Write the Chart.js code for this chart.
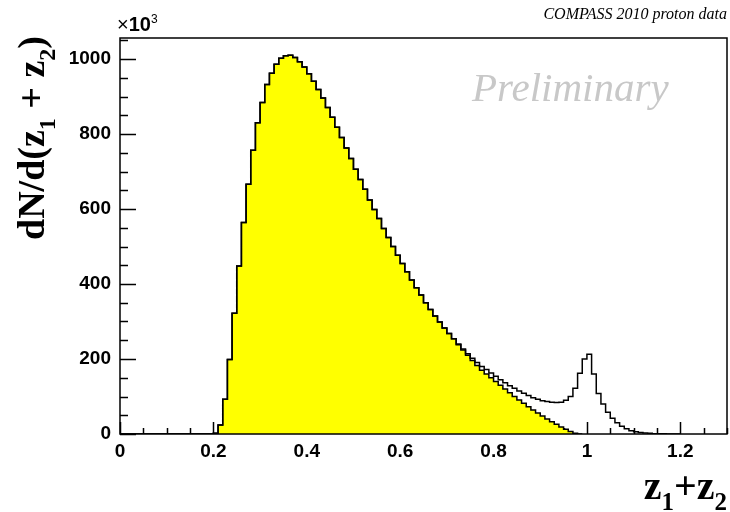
<!DOCTYPE html>
<html>
<head>
<meta charset="utf-8">
<script src="https://cdn.jsdelivr.net/npm/chart.js@4.4.1/dist/chart.umd.min.js"></script>
<style>
  html, body { margin: 0; padding: 0; background: #fff; }
  #wrap { width: 730px; height: 512px; }
</style>
</head>
<body>
<div id="wrap"><canvas id="chart" width="730" height="512"></canvas></div>
<script>
// histogram bins (width 0.01), first bin starts at 0.20
const binStart = 0.20;
const binWidth = 0.01;

// all events, x10^3 per bin
const totalCounts = [
    2, 24, 93, 199, 322, 448, 564, 666, 757, 830,          // 0.20 - 0.29
    884, 932, 962, 986, 1002, 1009, 1010, 1004, 993, 979,  // 0.30 - 0.39
    961, 941, 919, 896, 871, 845, 818, 791, 763, 735,      // 0.40 - 0.49
    706, 679, 653, 624, 599, 575, 548, 524, 500, 477,      // 0.50 - 0.59
    455, 433, 411, 390, 371, 350, 332, 315, 299, 283,      // 0.60 - 0.69
    268, 254, 240, 227, 214, 202, 191, 180, 172, 163,      // 0.70 - 0.79
    154, 145, 137, 129, 122, 115, 109, 103, 97, 93,        // 0.80 - 0.89
    89, 87, 85, 84, 85, 90, 100, 122, 162, 200,            // 0.90 - 0.99
    213, 160, 108, 80, 58, 42, 30, 21, 14, 9,              // 1.00 - 1.09
    6, 4, 3, 2, 1, 1, 0.5, 0.3, 0.2, 0                     // 1.10 - 1.19
];

// yellow (filled) sample, x10^3 per bin
const yellowCounts = [
    2, 24, 93, 199, 322, 448, 564, 666, 757, 830,          // 0.20 - 0.29
    884, 932, 962, 986, 1002, 1009, 1010, 1004, 993, 979,  // 0.30 - 0.39
    961, 941, 919, 896, 871, 845, 818, 791, 763, 735,      // 0.40 - 0.49
    706, 679, 653, 624, 599, 575, 548, 524, 500, 477,      // 0.50 - 0.59
    455, 433, 411, 390, 371, 350, 332, 315, 299, 283,      // 0.60 - 0.69
    268, 254, 238, 224, 210, 196, 183, 170, 160, 150,      // 0.70 - 0.79
    140, 130, 120, 110, 100, 91, 82, 73, 64, 56,           // 0.80 - 0.89
    48, 40, 33, 26, 19, 13, 7, 2, 0                        // 0.90 - 0.98
];

// axis
const xMin = 0, xMax = 1.3, xStep = 0.2, xMinorStep = 0.05;
const yMin = 0, yMax = 1056, yStep = 200, yMinorStep = 50;

const serif = '"Liberation Serif", "DejaVu Serif", serif';
const sans = '"Liberation Sans", Arial, sans-serif';

// bin contents -> step points at the lower bin edges
function toSteps(counts) {
    const pts = [{ x: 0, y: 0 }];
    counts.forEach((c, i) => {
        pts.push({ x: +(binStart + i * binWidth).toFixed(2), y: c });
    });
    pts.push({ x: +(binStart + counts.length * binWidth).toFixed(2), y: 0 });
    return pts;
}

// text with sub/superscripts, parts = [{t, sub, sup}]
function drawRich(ctx, parts, x, y, size, style) {
    let cx = x;
    parts.forEach(p => {
        const small = p.sub || p.sup;
        const s = small ? Math.round(size * 0.62) : size;
        ctx.font = `${p.style || style} ${s}px ${p.family || serif}`;
        let dy = 0;
        if (p.sub) dy = size * 0.28;
        if (p.sup) dy = -size * 0.42;
        ctx.fillText(p.t, cx, y + dy);
        cx += ctx.measureText(p.t).width;
    });
    return cx - x;
}

function richWidth(ctx, parts, size, style) {
    let w = 0;
    parts.forEach(p => {
        const small = p.sub || p.sup;
        const s = small ? Math.round(size * 0.62) : size;
        ctx.font = `${p.style || style} ${s}px ${p.family || serif}`;
        w += ctx.measureText(p.t).width;
    });
    return w;
}

// ROOT style ticks inside the frame (drawn before the histogram)
const insideTicks = {
    id: 'insideTicks',
    beforeDatasetsDraw(chart) {
        const { ctx, chartArea: a, scales: { x, y } } = chart;
        ctx.save();
        ctx.strokeStyle = '#000';
        ctx.lineWidth = 1.5;
        ctx.beginPath();
        for (let v = xMin; v <= xMax + 1e-9; v += xMinorStep) {
            const major = Math.abs(v / xStep - Math.round(v / xStep)) < 1e-6;
            const px = Math.round(x.getPixelForValue(v)) + 0.5;
            ctx.moveTo(px, a.bottom);
            ctx.lineTo(px, a.bottom - (major ? 12 : 6));
        }
        for (let v = yMin; v <= yMax + 1e-9; v += yMinorStep) {
            const major = v % yStep === 0;
            const py = Math.round(y.getPixelForValue(v)) + 0.5;
            ctx.moveTo(a.left, py);
            ctx.lineTo(a.left + (major ? 16 : 8), py);
        }
        ctx.stroke();
        ctx.restore();
    }
};

// frame and texts
const decorations = {
    id: 'decorations',
    afterDatasetsDraw(chart) {
        const { ctx, chartArea: a } = chart;
        ctx.save();
        ctx.strokeStyle = '#000';
        ctx.lineWidth = 1.5;
        ctx.strokeRect(a.left, a.top, a.right - a.left, a.bottom - a.top);
        ctx.restore();
    },
    afterDraw(chart) {
        const { ctx, chartArea: a } = chart;
        ctx.save();
        ctx.fillStyle = '#000';
        ctx.textBaseline = 'alphabetic';
        ctx.textAlign = 'left';

        // header
        ctx.textAlign = 'right';
        ctx.font = `italic 16px ${serif}`;
        ctx.fillText('COMPASS 2010 proton data', 727, 19);
        ctx.textAlign = 'left';

        // exponent
        drawRich(ctx, [
            { t: '×', style: 'normal', family: sans },
            { t: '10', style: 'bold', family: sans },
            { t: '3', sup: true, style: 'normal', family: sans }
        ], a.left - 3, 31, 20, 'bold');

        // preliminary
        ctx.fillStyle = '#c8c8c8';
        ctx.font = `italic 41px ${serif}`;
        ctx.fillText('Preliminary', 472, 101);
        ctx.fillStyle = '#000';

        // x title
        const xTitle = [
            { t: 'z' }, { t: '1', sub: true }, { t: '+z' }, { t: '2', sub: true }
        ];
        const w = richWidth(ctx, xTitle, 40, 'bold');
        drawRich(ctx, xTitle, 727 - w, 499, 40, 'bold');

        // y title, rotated
        ctx.translate(44, 240);
        ctx.rotate(-Math.PI / 2);
        drawRich(ctx, [
            { t: 'dN/d(z' }, { t: '1', sub: true }, { t: ' + z' }, { t: '2', sub: true }, { t: ')' }
        ], 0, 0, 38, 'bold');
        ctx.restore();
    }
};

const chart = new Chart(document.getElementById('chart'), {
    type: 'line',
    data: {
        datasets: [
            {
                label: 'all',
                data: toSteps(totalCounts),
                stepped: 'before',
                borderColor: '#000',
                borderWidth: 1.5,
                pointRadius: 0,
                fill: false,
                order: 0
            },
            {
                label: 'filled',
                data: toSteps(yellowCounts),
                stepped: 'before',
                borderColor: '#000',
                borderWidth: 1.5,
                backgroundColor: '#ffff00',
                pointRadius: 0,
                fill: 'origin',
                order: 1
            }
        ]
    },
    options: {
        responsive: false,
        animation: false,
        devicePixelRatio: 1,
        layout: { padding: { top: 38, right: 3, left: 0, bottom: 0 } },
        plugins: {
            legend: { display: false },
            tooltip: { enabled: false }
        },
        scales: {
            x: {
                type: 'linear',
                min: xMin,
                max: xMax,
                grid: { display: false, drawTicks: false },
                border: { display: false },
                ticks: {
                    stepSize: xStep,
                    includeBounds: false,
                    autoSkip: false,
                    maxRotation: 0,
                    padding: 6,
                    color: '#000',
                    font: { family: sans, size: 19, weight: 'bold' },
                    callback: v => String(parseFloat(v.toFixed(2)))
                },
                afterFit: s => { s.height = 78; }
            },
            y: {
                type: 'linear',
                min: yMin,
                max: yMax,
                grid: { display: false, drawTicks: false },
                border: { display: false },
                ticks: {
                    stepSize: yStep,
                    includeBounds: false,
                    padding: 9,
                    color: '#000',
                    font: { family: sans, size: 19, weight: 'bold' },
                    callback: v => String(v)
                },
                afterFit: s => { s.width = 120; }
            }
        }
    },
    plugins: [insideTicks, decorations]
});
</script>
</body>
</html>
